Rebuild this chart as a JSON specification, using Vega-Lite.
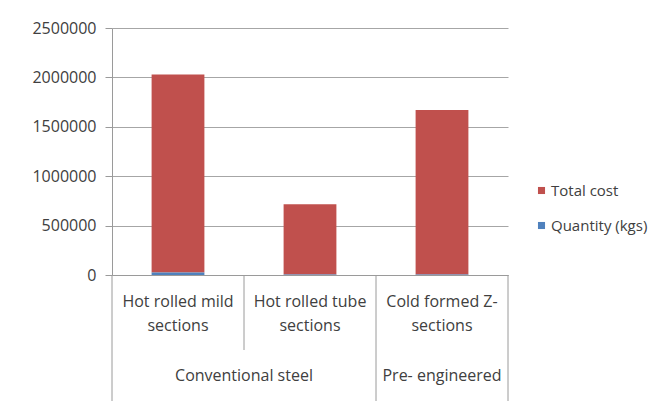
{
  "$schema": "https://vega.github.io/schema/vega-lite/v6.json",
  "autosize": "none",
  "width": 396,
  "height": 247,
  "padding": {"left": 112, "top": 28, "right": 161, "bottom": 130},
  "background": "white",
  "config": {
    "view": {"stroke": null},
    "font": "Open Sans",
    "text": {"font": "Open Sans"}
  },
  "data": {
    "values": [
      {"category": "Hot rolled mild sections", "group": "Conventional steel", "series": "Total cost", "value": 2005000},
      {"category": "Hot rolled mild sections", "group": "Conventional steel", "series": "Quantity (kgs)", "value": 25000},
      {"category": "Hot rolled tube sections", "group": "Conventional steel", "series": "Total cost", "value": 712000},
      {"category": "Hot rolled tube sections", "group": "Conventional steel", "series": "Quantity (kgs)", "value": 4000},
      {"category": "Cold formed Z-sections", "group": "Pre- engineered", "series": "Total cost", "value": 1665000},
      {"category": "Cold formed Z-sections", "group": "Pre- engineered", "series": "Quantity (kgs)", "value": 5000}
    ]
  },
  "encoding": {
    "x": {
      "field": "category",
      "type": "nominal",
      "sort": ["Hot rolled mild sections", "Hot rolled tube sections", "Cold formed Z-sections"],
      "scale": {"paddingInner": 0, "paddingOuter": 0},
      "axis": {
        "title": null,
        "labelAngle": 0,
        "domainColor": "#9a9a9a",
        "ticks": false,
        "labelPadding": 18,
        "labelFontSize": 16,
        "labelColor": "#404040",
        "labelLineHeight": 24,
        "labelBaseline": "top",
        "labelExpr": "datum.label == 'Hot rolled mild sections' ? ['Hot rolled mild', 'sections'] : datum.label == 'Hot rolled tube sections' ? ['Hot rolled tube', 'sections'] : ['Cold formed Z-', 'sections']"
      }
    }
  },
  "layer": [
    {
      "mark": {"type": "bar", "width": {"band": 0.4}},
      "encoding": {
        "y": {
          "field": "value",
          "type": "quantitative",
          "stack": "zero",
          "scale": {"domain": [0, 2500000], "nice": false},
          "axis": {
            "title": null,
            "values": [0, 500000, 1000000, 1500000, 2000000, 2500000],
            "format": "d",
            "grid": true,
            "gridColor": "#a6a6a6",
            "domainColor": "#9a9a9a",
            "tickColor": "#9a9a9a",
            "tickSize": 7,
            "labelPadding": 9,
            "labelFontSize": 16,
            "labelColor": "#404040"
          }
        },
        "color": {
          "field": "series",
          "type": "nominal",
          "scale": {"domain": ["Total cost", "Quantity (kgs)"], "range": ["#C0504D", "#4F81BD"]},
          "legend": {
            "title": null,
            "orient": "none",
            "legendX": 422,
            "legendY": 155,
            "symbolType": "square",
            "symbolSize": 50,
            "symbolStrokeWidth": 0,
            "labelFontSize": 15,
            "labelColor": "#404040",
            "rowPadding": 19,
            "labelOffset": 2
          }
        },
        "order": {"field": "series", "sort": "ascending"}
      }
    },
    {
      "transform": [
        {"filter": "datum.series == 'Total cost' && (datum.category == 'Hot rolled mild sections' || datum.category == 'Cold formed Z-sections')"}
      ],
      "mark": {"type": "rule", "color": "#9a9a9a", "y2Offset": 126},
      "encoding": {
        "x": {"field": "category", "type": "nominal", "bandPosition": 0},
        "y": {"datum": 0, "type": "quantitative"},
        "y2": {"datum": 0}
      }
    },
    {
      "transform": [
        {"filter": "datum.series == 'Total cost' && datum.category == 'Cold formed Z-sections'"}
      ],
      "mark": {"type": "rule", "color": "#9a9a9a", "y2Offset": 126},
      "encoding": {
        "x": {"field": "category", "type": "nominal", "bandPosition": 1},
        "y": {"datum": 0, "type": "quantitative"},
        "y2": {"datum": 0}
      }
    },
    {
      "transform": [
        {"filter": "datum.series == 'Total cost' && datum.category == 'Hot rolled tube sections'"}
      ],
      "mark": {"type": "rule", "color": "#9a9a9a", "y2Offset": 75},
      "encoding": {
        "x": {"field": "category", "type": "nominal", "bandPosition": 0},
        "y": {"datum": 0, "type": "quantitative"},
        "y2": {"datum": 0}
      }
    },
    {
      "transform": [
        {"filter": "datum.series == 'Total cost' && datum.category == 'Hot rolled tube sections'"}
      ],
      "mark": {"type": "text", "fontSize": 16, "color": "#404040", "dy": 101, "baseline": "middle"},
      "encoding": {
        "x": {"field": "category", "type": "nominal", "bandPosition": 0},
        "y": {"datum": 0, "type": "quantitative"},
        "text": {"field": "group"}
      }
    },
    {
      "transform": [
        {"filter": "datum.series == 'Total cost' && datum.category == 'Cold formed Z-sections'"}
      ],
      "mark": {"type": "text", "fontSize": 16, "color": "#404040", "dy": 101, "baseline": "middle"},
      "encoding": {
        "x": {"field": "category", "type": "nominal", "bandPosition": 0.5},
        "y": {"datum": 0, "type": "quantitative"},
        "text": {"field": "group"}
      }
    }
  ]
}
